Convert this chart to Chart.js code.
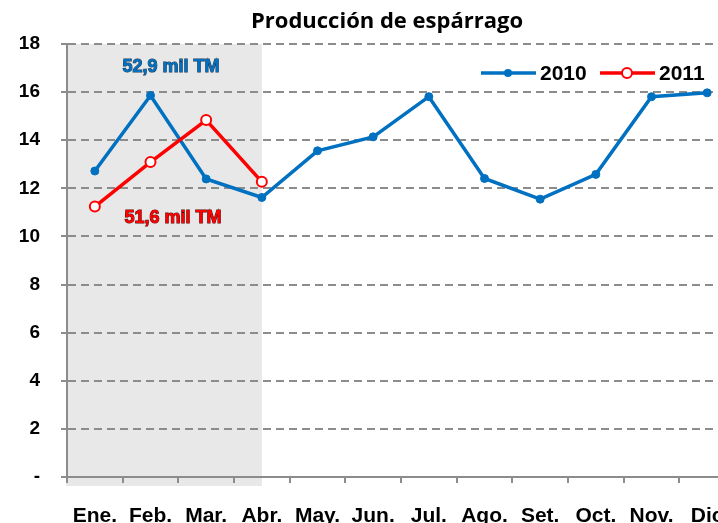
<!DOCTYPE html>
<html lang="es">
<head>
	<meta charset="UTF-8">
	<title>Producción de espárrago</title>
	<script src="https://cdn.jsdelivr.net/npm/chart.js"></script>
	<style>
		html, body { margin: 0; padding: 0; background: #fff; overflow: hidden; }
		#wrap { width: 775px; height: 523px; }
	</style>
</head>
<body>
	<div id="wrap"><canvas id="myChart" width="775" height="523"></canvas></div>
	<script>
		const meses = ['Ene.', 'Feb.', 'Mar.', 'Abr.', 'May.', 'Jun.', 'Jul.', 'Ago.', 'Set.', 'Oct.', 'Nov.', 'Dic'];
		const prod2010 = [12.72, 15.86, 12.39, 11.62, 13.56, 14.14, 15.81, 12.41, 11.55, 12.58, 15.81, 15.97];
		const prod2011 = [11.24, 13.09, 14.84, 12.27];
		const etiqueta2010 = '52,9 mil TM';
		const etiqueta2011 = '51,6 mil TM';
		const titulo = 'Producción de espárrago';

		const AZUL = '#0070c0';
		const ROJO = '#ff0000';
		const GRIS = '#8c8c8c';

		// sombreado Ene-Abr, título, leyenda y totales
		const extras = {
			id: 'extras',
			beforeDraw(chart) {
				const ctx = chart.ctx, a = chart.chartArea;
				const xAbr = chart.scales.x.getPixelForValue(3);
				ctx.save();
				ctx.fillStyle = '#e8e8e8';
				ctx.fillRect(a.left - 1, a.top, xAbr - a.left + 1, a.bottom - a.top + 9);
				ctx.restore();
			},
			afterDraw(chart) {
				const ctx = chart.ctx;
				ctx.save();
				ctx.textBaseline = 'middle';

				ctx.fillStyle = '#000';
				ctx.textAlign = 'center';
				ctx.font = 'bold 22px "Open Sans"';
				ctx.fillText(titulo, 387, 22);

				// leyenda
				const items = [
					{ x: 481, label: '2010', color: AZUL, hollow: false },
					{ x: 600, label: '2011', color: ROJO, hollow: true }
				];
				items.forEach(it => {
					const y = 73;
					ctx.strokeStyle = it.color;
					ctx.lineWidth = 3.5;
					ctx.beginPath();
					ctx.moveTo(it.x, y);
					ctx.lineTo(it.x + 55, y);
					ctx.stroke();
					ctx.beginPath();
					ctx.arc(it.x + 27, y, it.hollow ? 5 : 4, 0, Math.PI * 2);
					ctx.fillStyle = it.hollow ? '#fff' : it.color;
					ctx.fill();
					if (it.hollow) { ctx.lineWidth = 2; ctx.stroke(); }
					ctx.fillStyle = '#000';
					ctx.textAlign = 'left';
					ctx.font = 'bold 21px "Liberation Sans"';
					ctx.fillText(it.label, it.x + 59, y + 1);
				});

				// totales
				ctx.textAlign = 'center';
				ctx.font = 'bold 18px "Liberation Sans"';
				ctx.lineWidth = 1;
				ctx.strokeStyle = '#1d3550';
				ctx.strokeText(etiqueta2010, 171, 67);
				ctx.fillStyle = AZUL;
				ctx.fillText(etiqueta2010, 171, 67);
				ctx.strokeStyle = '#5a0000';
				ctx.strokeText(etiqueta2011, 173, 218);
				ctx.fillStyle = ROJO;
				ctx.fillText(etiqueta2011, 173, 218);
				ctx.restore();
			}
		};

		const ctx = document.getElementById('myChart').getContext('2d');
		new Chart(ctx, {
			type: 'line',
			data: {
				labels: meses,
				datasets: [
					{
						label: '2010',
						data: prod2010,
						borderColor: AZUL,
						backgroundColor: AZUL,
						borderWidth: 3.5,
						pointRadius: 4,
						pointBackgroundColor: AZUL,
						pointBorderColor: AZUL,
						pointBorderWidth: 1,
						tension: 0,
						order: 1
					},
					{
						label: '2011',
						data: prod2011,
						borderColor: ROJO,
						backgroundColor: '#fff',
						borderWidth: 3.5,
						pointRadius: 5,
						pointBackgroundColor: '#fff',
						pointBorderColor: ROJO,
						pointBorderWidth: 2,
						tension: 0,
						order: 0
					}
				]
			},
			options: {
				responsive: false,
				animation: false,
				devicePixelRatio: 1,
				layout: { padding: { top: 44, right: 40, bottom: 0, left: 0 } },
				plugins: {
					legend: { display: false },
					title: { display: false },
					tooltip: { enabled: false }
				},
				scales: {
					x: {
						offset: true,
						afterFit: s => { s.height = 46; },
						grid: { offset: true, drawOnChartArea: false, color: GRIS, lineWidth: 2, tickLength: 6 },
						border: { color: GRIS, width: 2 },
						ticks: {
							color: '#000',
							padding: 21,
							maxRotation: 0,
							autoSkip: false,
							font: { family: 'Liberation Sans', size: 21, weight: 'bold' }
						}
					},
					y: {
						min: 0,
						max: 18,
						afterFit: s => { s.width = 67; },
						grid: { color: GRIS, lineWidth: 2, tickLength: 6, tickBorderDash: [] },
						border: { color: GRIS, width: 2, dash: [8, 5] },
						ticks: {
							stepSize: 2,
							color: '#000',
							padding: 21,
							font: { family: 'Liberation Sans', size: 19, weight: 'bold' },
							callback: v => v === 0 ? '-' : v
						}
					}
				}
			},
			plugins: [extras]
		});
	</script>
</body>
</html>
